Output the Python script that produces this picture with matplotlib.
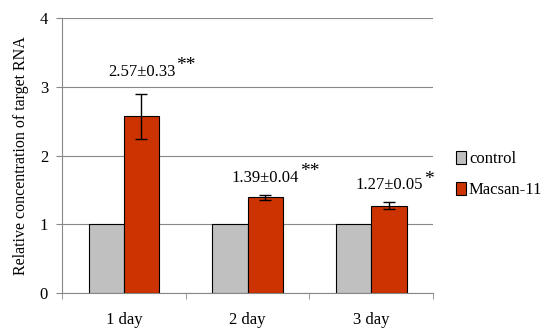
import numpy as np
import matplotlib.pyplot as plt

plt.rcParams['font.family'] = ['Liberation Serif', 'DejaVu Serif']

days = ['1 day', '2 day', '3 day']
control = [1.0, 1.0, 1.0]
macsan = [2.57, 1.39, 1.27]
macsan_err = [0.33, 0.04, 0.05]
labels = ['2.57±0.33', '1.39±0.04', '1.27±0.05']
stars = ['**', '**', '*']

x = np.arange(len(days))
w = 0.285

fig = plt.figure(figsize=(5.5, 3.36), dpi=100)
ax = fig.add_axes([0.1127, 0.128, 0.675, 0.818])

ax.bar(x - w/2, control, w, color='#c0c0c0', edgecolor='black', linewidth=0.8,
       label='control', zorder=3)
ax.bar(x + w/2, macsan, w, color='#cc3300', edgecolor='black', linewidth=0.8,
       label='Macsan-11', zorder=3)
ax.errorbar(x + w/2, macsan, yerr=macsan_err, fmt='none', ecolor='black',
            elinewidth=1, capsize=4, capthick=1, zorder=4)

# value labels + significance stars
offs = [22, 17, 17]
for i in range(len(days)):
    top = macsan[i] + macsan_err[i]
    ax.annotate(labels[i], (x[i] + w/2, top), xytext=(0, offs[i]),
                textcoords='offset pixels', ha='center', va='center', fontsize=12)
    ax.annotate(stars[i], (x[i] + w/2, top), xytext=(35, offs[i] + 6),
                textcoords='offset pixels', ha='left', va='center', fontsize=14)

ax.set_xlim(-0.5, 2.5)
ax.set_ylim(0, 4)
ax.set_yticks([0, 1, 2, 3, 4])
ax.set_xticks(x)
ax.set_xticklabels(days)
ax.set_xticks([-0.5, 0.5, 1.5, 2.5], minor=True)
ax.tick_params(axis='x', which='major', length=0, pad=14, labelsize=12)
ax.tick_params(axis='x', which='minor', length=4, color='#888888')
ax.tick_params(axis='y', length=4, color='#888888', labelsize=12, pad=6)
ax.yaxis.grid(True, color='#888888', linewidth=0.8, zorder=0)
ax.set_axisbelow(True)
for s in ['top', 'right']:
    ax.spines[s].set_visible(False)
ax.spines['left'].set_color('#888888')
ax.spines['bottom'].set_color('#888888')
ax.set_ylabel('Relative concentration of target RNA', fontsize=11.5, labelpad=8)

ax.legend(loc='center left', bbox_to_anchor=(1.02, 0.43), frameon=False,
          fontsize=12, handlelength=0.6, handleheight=0.75, handletextpad=0.2,
          labelspacing=0.9)

plt.savefig('out.png')
